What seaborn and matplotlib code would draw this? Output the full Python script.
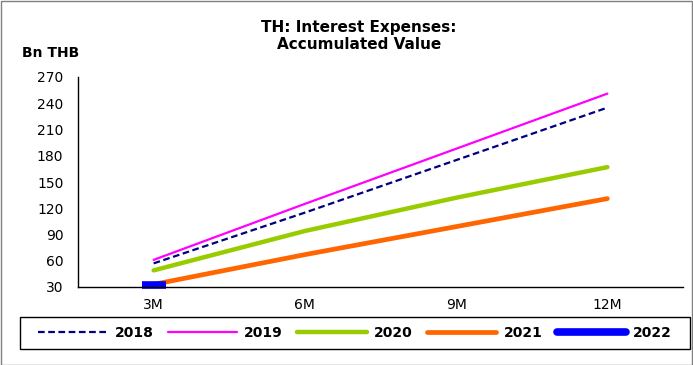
import matplotlib
matplotlib.use("Agg")
import matplotlib.pyplot as plt
from matplotlib.lines import Line2D
from matplotlib.patches import Rectangle
from matplotlib.ticker import FixedLocator, NullFormatter
import seaborn as sns
import pandas as pd

# Accumulated interest expenses (Bn THB) by reporting period
periods = ["3M", "6M", "9M", "12M"]
y2018 = [57, 115, 175, 235]
y2019 = [61, 125, 188, 251]
y2020 = [49, 94, 132, 167]
y2021 = [33, 67, 99, 131]
y2022 = [32]

series = {
    "2018": y2018,
    "2019": y2019,
    "2020": y2020,
    "2021": y2021,
    "2022": y2022,
}
colors = {
    "2018": "#000080",
    "2019": "#FF00FF",
    "2020": "#99CC00",
    "2021": "#FF6600",
    "2022": "#0000FF",
}
widths = {"2018": 1.6, "2019": 1.6, "2020": 3.2, "2021": 3.4, "2022": 5.5}
DASH = (0, (3, 1.6))

rows = []
for name, vals in series.items():
    for p, v in zip(periods, vals):
        rows.append({"period": p, "value": v, "year": name})
df = pd.DataFrame(rows)

sns.set_style("white")
plt.rcParams["font.family"] = ["DejaVu Sans"]
plt.rcParams["text.color"] = "black"
plt.rcParams["xtick.color"] = "black"
plt.rcParams["ytick.color"] = "black"
plt.rcParams["axes.labelcolor"] = "black"

fig = plt.figure(figsize=(6.93, 3.65), dpi=100)
ax = fig.add_axes([78 / 693, 1 - 287 / 365, (683 - 78) / 693, (287 - 77) / 365])

for name in ["2018", "2019", "2020", "2021"]:
    sub = df[df["year"] == name]
    sns.lineplot(
        data=sub, x="period", y="value", ax=ax,
        color=colors[name], linewidth=widths[name],
        linestyle=DASH if name == "2018" else "-",
        sort=False, legend=False,
    )

# 2022 has only the first quarter so far: a single short bar-like marker
sub = df[df["year"] == "2022"]
sns.lineplot(
    data=sub, x="period", y="value", ax=ax, color=colors["2022"],
    marker="_", markersize=17, markeredgewidth=5.5,
    markeredgecolor=colors["2022"], linewidth=0, clip_on=False,
    legend=False,
)

ax.set_xlim(-0.5, 3.5)
ax.set_ylim(30, 270)
ax.set_yticks(range(30, 271, 30))
ax.set_xticks(range(len(periods)))
ax.set_xticklabels(periods)
ax.xaxis.set_minor_locator(FixedLocator([-0.5, 0.5, 1.5, 2.5, 3.5]))
ax.xaxis.set_minor_formatter(NullFormatter())
ax.tick_params(axis="x", which="major", length=0, pad=8, labelsize=10, labelcolor="black")
ax.tick_params(axis="x", which="minor", length=4, width=1, color="#808080", direction="out")
ax.tick_params(axis="y", length=3.5, width=1, color="black", direction="out",
               labelsize=10, pad=7, labelcolor="black")
ax.set_xlabel("")
ax.set_ylabel("")
for s in ["top", "right"]:
    ax.spines[s].set_visible(False)
for s in ["left", "bottom"]:
    ax.spines[s].set_color("black")
    ax.spines[s].set_linewidth(1)

fig.text(359 / 693, 1 - 36 / 365, "TH: Interest Expenses:\nAccumulated Value",
         ha="center", va="center", fontsize=11, fontweight="bold", linespacing=1.15,
         color="black")
fig.text(22 / 693, 1 - 53 / 365, "Bn THB", ha="left", va="center",
         fontsize=10, fontweight="bold", color="black")

handles = []
for name in series:
    handles.append(Line2D([0], [0], color=colors[name], linewidth=widths[name],
                          linestyle=DASH if name == "2018" else "-"))
leg = fig.legend(
    handles, list(series.keys()), loc="center left",
    bbox_to_anchor=(38 / 693, 1 - 349 / 365, 634 / 693, 32 / 365),
    mode="expand", ncol=5, frameon=False,
    handlelength=5.0, handletextpad=0.5, borderaxespad=0, borderpad=0,
    prop={"weight": "bold", "size": 10}, labelcolor="black",
)

# legend frame
fig.patches.append(Rectangle((20 / 693, 1 - 349 / 365), 670 / 693, 32 / 365,
                             transform=fig.transFigure, fill=False,
                             edgecolor="black", linewidth=1))
# outer chart border
fig.patches.append(Rectangle((0.001, 0.001), 0.997, 0.996, transform=fig.transFigure,
                             fill=False, edgecolor="#808080", linewidth=1))

fig.savefig("out.png", dpi=100)
